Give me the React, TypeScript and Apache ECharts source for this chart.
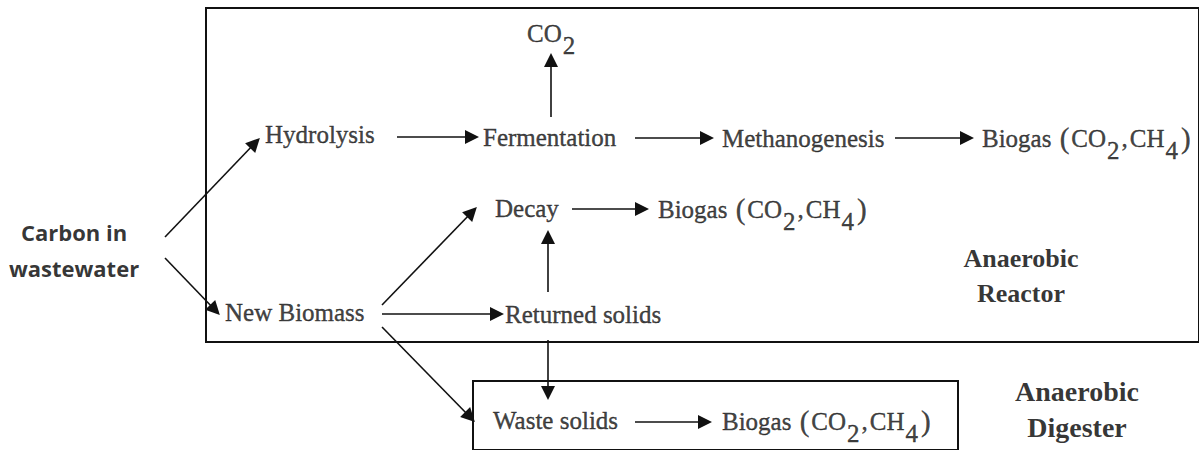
import React, { useEffect, useRef } from "react";
import * as echarts from "echarts";

// Diagram space: x 0..1199, y 0..450 (top to bottom)
const X_MAX = 1199;
const Y_MAX = 450;

// Process stages (text, anchor x = left edge of text, anchor y = text middle)
const BIOGAS = "Biogas {p|(}CO{s|2}{c|,}CH{s|4}{p|)}";
const stageText = [
  "Hydrolysis",
  "Fermentation",
  "CO{s|2}",
  "Methanogenesis",
  BIOGAS,
  "Decay",
  BIOGAS,
  "New Biomass",
  "Returned solids",
  "Waste solids",
  BIOGAS,
];
const stageX = [265, 483, 527, 722, 982, 495, 658, 225, 505, 493, 722];
const stageY = [134, 137, 33, 138, 138, 208, 209, 312, 314, 420, 421];

// Input label (centred), one entry per line
const inputText = ["Carbon in", "wastewater"];
const inputX = [74, 74];
const inputY = [232, 268];

// Unit labels (centred), one entry per line
const unitText = ["Anaerobic", "Reactor", "Anaerobic", "Digester"];
const unitX = [1021, 1021, 1077, 1077];
const unitY = [258, 293, 391, 427];
const unitFontSize = [26, 26, 28, 28];

// Arrows: start point and tip point
const arrowFrom = [
  [165, 237], [165, 258], [397, 137], [551, 117], [635, 138], [895, 138],
  [572, 209], [382, 305], [382, 314], [548, 292], [548, 340], [382, 327], [635, 422],
];
const arrowTo = [
  [255, 143], [215, 310], [472, 137], [551, 60], [707, 138], [967, 138],
  [642, 209], [472, 212], [497, 314], [548, 237], [548, 393], [470, 417], [705, 422],
];

// Boxes: [x1, y1, x2, y2]
const boxes = [
  [206, 8, 1215, 342],
  [473, 381, 958, 470],
];

export default function App() {
  const ref = useRef<HTMLDivElement>(null);
  useEffect(() => {
    document.body.style.margin = "0";
    if (!ref.current) return;
    const chart = echarts.init(ref.current, undefined, { renderer: "svg" });
    const serif = "Liberation Serif";
    const ink = "#111";
    const base = {
      fontFamily: serif,
      fontSize: 25,
      color: ink,
      textBorderColor: ink,
      textBorderWidth: 0.4,
    };
    const rich = {
      s: { ...base, padding: [24, 1, 0, 1] },
      p: { ...base, fontSize: 29, padding: [0, 2, 0, 2] },
      c: { ...base, padding: [0, 2, 0, 1] },
    };

    const stageData = stageText.map((t, i) => ({
      value: [stageX[i], stageY[i]],
      label: { formatter: t, ...base, rich },
    }));
    const unitData = unitText.map((t, i) => ({
      value: [unitX[i], unitY[i]],
      label: {
        formatter: t,
        fontFamily: serif,
        fontWeight: "bold",
        fontSize: unitFontSize[i],
        color: "#000",
        align: "center",
      },
    }));
    const inputData = inputText.map((t, i) => ({
      value: [inputX[i], inputY[i]],
      label: {
        formatter: t,
        fontFamily: "Open Sans",
        fontWeight: "bold",
        fontSize: 22,
        color: "#000",
        align: "center",
      },
    }));
    const arrowData = arrowFrom.map((f, i) => ({ coords: [f, arrowTo[i]] }));
    const boxData = boxes.map((b) => [
      { xAxis: b[0], yAxis: b[1] },
      { xAxis: b[2], yAxis: b[3] },
    ]);

    chart.setOption({
      animation: false,
      backgroundColor: "#ffffff",
      grid: { left: 0, right: 0, top: 0, bottom: 0 },
      xAxis: { type: "value", min: 0, max: X_MAX, show: false },
      yAxis: { type: "value", min: 0, max: Y_MAX, inverse: true, show: false },
      series: [
        {
          type: "scatter",
          name: "boxes",
          data: [],
          silent: true,
          markArea: {
            silent: true,
            itemStyle: { color: "rgba(0,0,0,0)", borderColor: "#111", borderWidth: 2 },
            label: { show: false },
            data: boxData,
          },
        },
        {
          type: "lines",
          coordinateSystem: "cartesian2d",
          silent: true,
          symbol: ["none", "triangle"],
          symbolSize: [11, 14],
          symbolOffset: [0, [0, 7]],
          lineStyle: { color: "#111", width: 1.6, opacity: 1 },
          data: arrowData,
        },
        {
          type: "scatter",
          silent: true,
          symbolSize: 1,
          itemStyle: { color: "rgba(0,0,0,0)" },
          label: { show: true, position: "inside", align: "left", verticalAlign: "middle" },
          data: [...stageData, ...unitData, ...inputData],
        },
      ],
    });
    return () => chart.dispose();
  }, []);
  return <div ref={ref} style={{ width: 1199, height: 450 }} />;
}
